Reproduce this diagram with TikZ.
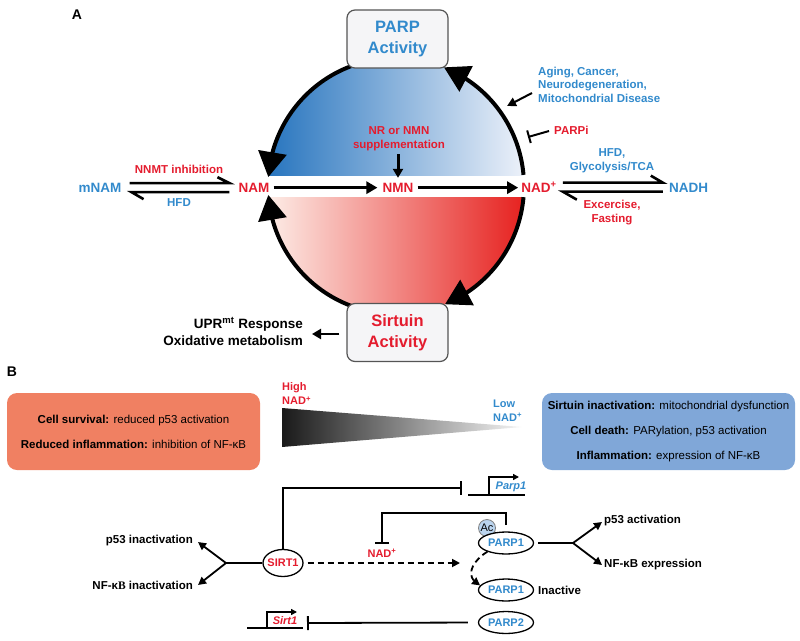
\documentclass[tikz,border=0pt]{standalone}
\usepackage{fontspec}
\setmainfont{Liberation Sans}
\newfontfamily\serifB{Liberation Serif}
\usetikzlibrary{arrows.meta,bending,shapes.geometric,calc}
\definecolor{tblue}{RGB}{50,138,204}
\definecolor{tred}{RGB}{228,28,46}
\definecolor{boxgray}{RGB}{245,245,247}
\definecolor{boxedge}{RGB}{85,85,85}
\definecolor{salmon}{RGB}{240,128,98}
\definecolor{steel}{RGB}{128,167,216}
\definecolor{acblue}{RGB}{186,212,238}
\definecolor{blueL}{RGB}{38,116,190}
\definecolor{blueR}{RGB}{238,242,250}
\definecolor{redL}{RGB}{253,238,232}
\definecolor{redM}{RGB}{242,140,112}
\definecolor{redR}{RGB}{230,32,30}
\newcommand{\myfs}[2]{\fontsize{#1}{#2}\selectfont}
\tikzset{
  lbl/.style={inner sep=0pt, font=\bfseries\myfs{11.5}{14}, align=center},
  lblL/.style={lbl, align=left},
  lblR/.style={lbl, align=right},
  mol/.style={inner sep=0pt, anchor=base, font=\bfseries\myfs{13.5}{16}},
  actbox/.style={draw=boxedge, line width=1.2pt, fill=boxgray, rounded corners=8pt, minimum width=101pt, minimum height=58pt, inner sep=0pt, align=center, font=\bfseries\myfs{16.5}{21}},
  ring/.style={line width=4pt, -{Triangle[length=25pt,width=28pt]}},
  fat/.style={line width=3.6pt, -{Triangle[length=11pt,width=12pt]}},
  eqline/.style={line width=2.6pt},
  thinarr/.style={line width=2pt, -{Triangle[length=9pt,width=9pt]}},
  inh/.style={line width=2pt, -{Bar[width=13pt,line width=2pt]}},
  ln/.style={line width=1.8pt},
  arr/.style={ln, -{Triangle[length=8pt,width=8pt]}},
  inhb/.style={ln, -{Bar[width=14pt,line width=1.8pt]}},
  dasharr/.style={ln, dash pattern=on 6pt off 4pt, -{Triangle[length=8pt,width=8pt]}},
  prot/.style={ellipse, draw, line width=1.3pt, fill=white, inner sep=0pt, minimum width=55pt, minimum height=22pt, font=\bfseries\myfs{11}{13}, text=tblue},
  effbox/.style={rounded corners=10pt, minimum width=253pt, minimum height=77pt, inner sep=0pt, align=center, font=\myfs{11.5}{25}},
  gene/.style={inner sep=0pt, font=\bfseries\itshape\myfs{11}{13}},
  panel/.style={inner sep=0pt, font=\bfseries\myfs{14}{16}},
}
\begin{document}
\begin{tikzpicture}[x=1pt,y=1pt]
\useasboundingbox (0,0) rectangle (800,-640);
% ---------------- Panel A
\node[panel] (labA) at (77,-15) {A};
\coordinate (C) at (396,-186);
\begin{scope}
 \clip (C) circle[radius=128];
 \shade[left color=blueL, right color=blueR] (266,-56) rectangle (526,-175);
 \shade[left color=redL, middle color=redM, right color=redR] (266,-197) rectangle (526,-316);
\end{scope}
\draw[ring] ($(C)+(105:128)$) arc[start angle=105,end angle=176,radius=128];
\draw[ring] ($(C)+(5:128)$) arc[start angle=5,end angle=68,radius=128];
\draw[ring] ($(C)+(255:128)$) arc[start angle=255,end angle=184,radius=128];
\draw[ring] ($(C)+(-5:128)$) arc[start angle=-5,end angle=-67.5,radius=128];

\node[actbox, text=tblue] (parpbox) at (397.5,-39) {PARP\\Activity};
\node[actbox, text=tred] (sirtbox) at (397.5,-332.5) {Sirtuin\\Activity};

\node[mol, text=tred] (nam) at (254,-192.3) {NAM};
\node[mol, text=tred] (nmn) at (398,-192.3) {NMN};
\node[mol, text=tred] (nad) at (539,-192.3) {NAD\textsuperscript{+}};
\node[mol, text=tblue] (mnam) at (100,-192.3) {mNAM};
\node[mol, text=tblue] (nadh) at (688.5,-192.3) {NADH};

\draw[fat, shorten <=4pt, shorten >=5pt] (nam.east) -- (nmn.west);
\draw[fat, shorten <=4pt, shorten >=3pt] (nmn.east) -- (nmn.east -| nad.west);

\node[lbl, text=tred] (sup) at (399,-139) {NR or NMN\\supplementation};
\draw[line width=3pt, -{Triangle[length=9pt,width=10pt]}, shorten <=3pt, shorten >=5pt] (sup.south -| nmn.north) -- (nmn.north);

\draw[eqline] ($(mnam.east)+(8,4.5)$) -- ($(nam.west)+(-9,4.5)$) -- ++(-12,6);
\draw[eqline] ($(nam.west)+(-9,-4.5)$) -- ($(mnam.east)+(10,-4.5)$) -- ++(12,-7);
\draw[eqline] ($(nad.east |- nadh.west)+(6,5)$) -- ($(nadh.west)+(-6,5)$) -- ++(-12,7);
\draw[eqline] ($(nadh.west)+(-6,-4)$) -- ($(nad.east |- nadh.west)+(6,-4)$) -- ++(14,-8);

\node[lbl, text=tred] (nnmt) at (179,-169) {NNMT inhibition};
\node[lbl, text=tblue] (hfdL) at (179,-203) {HFD};
\node[lbl, text=tblue] (hfdR) at (612,-161) {HFD,\\Glycolysis/TCA};
\node[lbl, text=tred] (exc) at (612,-212.5) {Excercise,\\Fasting};
\node[lblL, text=tblue, anchor=west, font=\bfseries\myfs{11.5}{13.5}] (aging) at (538,-84.5) {Aging, Cancer,\\Neurodegeneration,\\Mitochondrial Disease};
\coordinate (agtip) at (507,-106);
\draw[thinarr] ($(aging.west)+(-6,-8.5)$) -- (agtip);
\node[lblL, text=tred, anchor=west] (parpi) at (554,-130) {PARPi};
\coordinate (pitip) at (528,-137);
\draw[inh] ($(parpi.west)+(-5,-1)$) -- (pitip);

\node[lblR, anchor=east, font=\bfseries\myfs{13.5}{17}] (upr) at (303,-331.5) {UPR\textsuperscript{mt} Response\\Oxidative metabolism};
\draw[line width=2.6pt, -{Triangle[length=9pt,width=10pt]}] ($(sirtbox.west)+(-7,-1.5)$) -- ($(upr.east |- sirtbox.west)+(9,-1.5)$);

% ---------------- Panel B
\node[panel] (labB) at (12,-372) {B};
\node[effbox, fill=salmon] (obox) at (133.5,-431.5) {\textbf{Cell survival:} reduced p53 activation\\\textbf{Reduced inflammation:} inhibition of NF-κB};
\node[effbox, fill=steel] (bbox) at (668.5,-431.5) {\textbf{Sirtuin inactivation:} mitochondrial dysfunction\\\textbf{Cell death:} PARylation, p53 activation\\\textbf{Inflammation:} expression of NF-κB};

\shade[left color=black!90, right color=black!4] (282,-408) -- (522,-427) -- (282,-447) -- cycle;
\node[lblL, anchor=west, text=tred, font=\bfseries\myfs{11}{14}] (high) at (282,-394) {High\\NAD\textsuperscript{+}};
\node[lblL, anchor=west, text=tblue, font=\bfseries\myfs{11}{13.5}] (low) at (493,-410.5) {Low\\NAD\textsuperscript{+}};

\node[prot, text=tred, minimum width=40pt, minimum height=27pt, inner xsep=-1.8pt] (sirt1) at (283,-563) {SIRT1};
\node[circle, draw=black!50, fill=acblue, line width=0.8pt, minimum size=17pt, inner sep=0pt, font=\myfs{11}{12}] (ac) at (487,-528) {Ac};
\node[prot] (parp1) at (506,-543) {PARP1};
\node[prot] (parp1i) at (506,-590) {PARP1};
\node[prot] (parp2) at (506,-622.5) {PARP2};
\node[lbl, anchor=west] (inact) at (538,-590) {Inactive};
\node[lbl, text=tred, font=\bfseries\myfs{11}{13}] (nadb) at (382,-553) {NAD\textsuperscript{+}};

\coordinate (pbar) at (462,-488);
\draw[inhb] (sirt1.north) |- (pbar);
\draw[ln] (468,-495) -- (525,-495);
\draw[ln, -{Triangle[length=6pt,width=6pt]}] (489,-495) -- (489,-477) -- (519,-477);
\node[gene, text=tblue] (parp1g) at (511,-487) {Parp1};

\coordinate (acl) at (506,-525);
\draw[inhb] (acl) -- ++(0,12) -| ($(nadb.north)+(0,5)$);

\coordinate (dend) at (460,-563);
\draw[dasharr, shorten <=4pt] (sirt1.east) -- (dend);
\draw[dasharr] (parp1.205) .. controls +(-16,-10) and +(-16,8) .. (parp1i.170);

\coordinate (brL) at (226,-563);
\node[lbl, anchor=east] (p53in) at (193,-541) {p53 inactivation};
\node[lbl, anchor=east] (nfin) at (193,-585) {NF-κ{\serifB B} inactivation};
\draw[ln] (sirt1.west) -- (brL);
\draw[arr] (brL) -- ($(p53in.east)+(5,-1)$);
\draw[arr] (brL) -- ($(nfin.east)+(5,0)$);

\coordinate (brR) at (573,-543);
\node[lbl, anchor=west] (p53act) at (604,-521) {p53 activation};
\node[lbl, anchor=west] (nfex) at (604,-565) {NF-κB expression};
\draw[ln, shorten <=4pt] (parp1.east) -- (brR);
\draw[arr] (brR) -- ($(p53act.west)+(-2,-1)$);
\draw[arr] (brR) -- ($(nfex.west)+(-2,0)$);

\coordinate (sbar) at (307,-623);
\draw[inhb, shorten <=10pt] (parp2.west) -- (sbar);
\draw[ln] (247,-628) -- (303,-628);
\draw[ln, -{Triangle[length=6pt,width=6pt]}] (267,-628) -- (267,-612) -- (297,-612);
\node[gene, text=tred] (sirt1g) at (285,-621) {Sirt1};
\end{tikzpicture}
\end{document}
